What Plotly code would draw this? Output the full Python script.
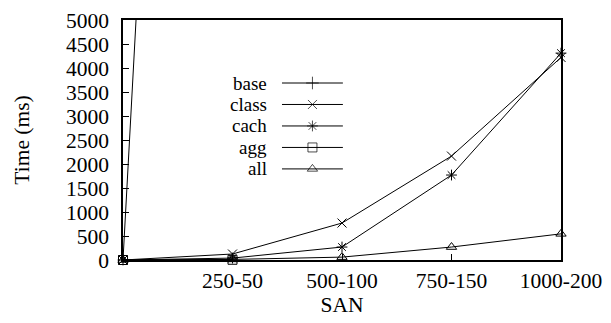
import plotly.graph_objects as go

# Data
x_pos = [0, 250, 500, 750, 1000]
tick_vals = [250, 500, 750, 1000]
tick_text = ["250-50", "500-100", "750-150", "1000-200"]

base_x = [0, 250]
base_y = [0, 42000]
class_y = [0, 125, 770, 2165, 4220]
cach_y = [0, 40, 270, 1770, 4310]
agg_x = [0, 250]
agg_y = [0, 5]
all_y = [0, 12, 60, 270, 545]

series_names = ["base", "class", "cach", "agg", "all"]
series_symbols = ["cross-thin-open", "x-thin-open", "asterisk-open", "square-open", "triangle-up-open"]

FONT = "Liberation Serif"
FS = 21.5
fig = go.Figure()

def add(xs, ys, sym, clip):
    fig.add_trace(go.Scatter(
        x=xs, y=ys, mode="lines+markers",
        line=dict(color="black", width=1),
        marker=dict(symbol=sym, size=9, color="black", line=dict(color="black", width=1)),
        cliponaxis=clip, showlegend=False,
    ))

add(base_x, base_y, series_symbols[0], True)
add(x_pos, class_y, series_symbols[1], False)
add(x_pos, cach_y, series_symbols[2], False)
add(agg_x, agg_y, series_symbols[3], False)
add(x_pos, all_y, series_symbols[4], False)

# Custom legend (text left of sample line, gnuplot style)
leg_x0, leg_x1, leg_text_x = 0.363, 0.502, 0.331
leg_top, leg_step = 0.7375, 0.0895
for i, (name, sym) in enumerate(zip(series_names, series_symbols)):
    yy = leg_top - i * leg_step
    fig.add_trace(go.Scatter(
        x=[leg_x0, (leg_x0 + leg_x1) / 2, leg_x1], y=[yy, yy, yy],
        mode="lines+markers", xaxis="x2", yaxis="y2",
        line=dict(color="black", width=1),
        marker=dict(symbol=sym, size=[0, 9, 0], color="black", line=dict(color="black", width=1)),
        showlegend=False, hoverinfo="skip", cliponaxis=False,
    ))
    fig.add_annotation(x=leg_text_x, y=yy, xref="x2", yref="y2", text=name,
                       showarrow=False, xanchor="right", yanchor="middle", borderpad=0,
                       font=dict(family=FONT, size=19, color="black"))

fig.update_layout(
    width=603, height=315,
    margin=dict(l=115, r=50, t=12, b=63, autoexpand=False),
    paper_bgcolor="white", plot_bgcolor="white",
    font=dict(family=FONT, size=FS, color="black"),
    showlegend=False,
    xaxis=dict(
        range=[0, 1000], tickvals=tick_vals, ticktext=tick_text,
        ticks="inside", ticklen=6, tickcolor="black", tickwidth=1,
        showline=True, linecolor="black", linewidth=1.5, mirror=True,
        showgrid=False, zeroline=False, ticklabelstandoff=0, automargin=False,
        title=dict(text="SAN", font=dict(family=FONT, size=FS), standoff=0),
        tickfont=dict(family=FONT, size=FS),
    ),
    yaxis=dict(
        range=[0, 5000], dtick=500,
        ticks="inside", ticklen=6, tickcolor="black", tickwidth=1,
        showline=True, linecolor="black", linewidth=1.5, mirror=True,
        showgrid=False, zeroline=False, ticklabelstandoff=8, automargin=False,
        title=dict(text="Time (ms)", font=dict(family=FONT, size=FS), standoff=30),
        tickfont=dict(family=FONT, size=FS),
    ),
    xaxis2=dict(range=[0, 1], domain=[0, 1], overlaying="x", visible=False, fixedrange=True),
    yaxis2=dict(range=[0, 1], domain=[0, 1], overlaying="y", visible=False, fixedrange=True),
)

fig.write_html("out.html")
